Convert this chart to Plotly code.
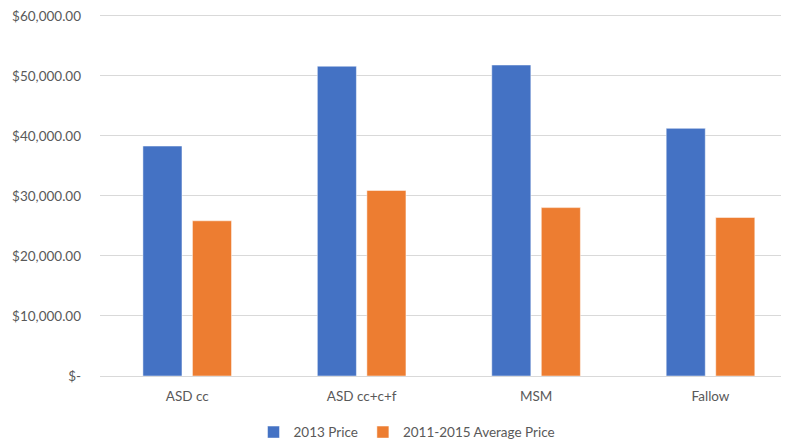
import plotly.graph_objects as go

categories = ["ASD cc", "ASD cc+c+f", "MSM", "Fallow"]
price_2013 = [38300, 51600, 51800, 41250]
avg_2011_2015 = [25850, 30900, 28050, 26400]
tick_vals = [0, 10000, 20000, 30000, 40000, 50000, 60000]
tick_text = ["$-", "$10,000.00", "$20,000.00", "$30,000.00", "$40,000.00", "$50,000.00", "$60,000.00"]

FONT = "Lato"
GREY = "#595959"

fig = go.Figure()
fig.add_trace(go.Bar(
    x=categories, y=price_2013, name="2013 Price",
    marker=dict(color="#4472C4", line=dict(color="rgba(255,255,255,0.6)", width=0.8)),
    width=0.224, offset=-0.254,
))
fig.add_trace(go.Bar(
    x=categories, y=avg_2011_2015, name="2011-2015 Average Price",
    marker=dict(color="#ED7D31", line=dict(color="rgba(255,255,255,0.6)", width=0.8)),
    width=0.224, offset=0.03,
))

# page body has an 8px margin, so the figure is drawn 8px smaller
fig.update_layout(
    width=781, height=436,
    margin=dict(l=92, r=0, t=5.7, b=68.3, autoexpand=False),
    paper_bgcolor="white", plot_bgcolor="white",
    barmode="overlay",
    font=dict(family=FONT, size=13.5, color=GREY),
    showlegend=True,
    legend=dict(
        orientation="h",
        x=0.4456, xanchor="center", y=-0.1555, yanchor="middle",
        font=dict(family=FONT, size=13.5, color=GREY),
        traceorder="normal", bgcolor="rgba(0,0,0,0)",
    ),
    xaxis=dict(
        type="category", range=[-0.5, 3.45],
        showgrid=False, showline=True, linecolor="#D9D9D9", linewidth=1,
        ticks="", tickfont=dict(family=FONT, size=13.5, color=GREY),
        ticklabelstandoff=8,
    ),
    yaxis=dict(
        range=[0, 60300], tickvals=tick_vals, ticktext=tick_text,
        showgrid=True, gridcolor="#D9D9D9", gridwidth=1,
        zeroline=False, showline=False, ticks="",
        tickfont=dict(family=FONT, size=13.5, color=GREY),
        ticklabelstandoff=18, ticklabeloverflow="allow",
    ),
)

fig.write_html("out.html")
